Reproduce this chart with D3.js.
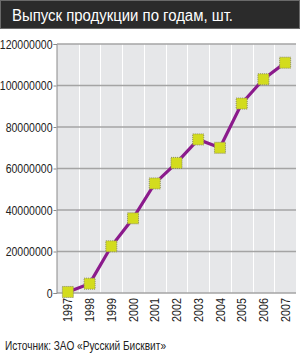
<!DOCTYPE html>
<html>
<head>
<meta charset="utf-8">
<script src="https://cdn.jsdelivr.net/npm/d3@7"></script>
<style>
body { margin: 0; background: #fff; }
text { font-family: "Liberation Sans", Arial, sans-serif; }
</style>
</head>
<body>
<div id="chart"></div>
<script>
let svgWidth = 300;
let svgHeight = 356;
let margin = { top: 44, right: 4, bottom: 63, left: 57 };
let w = svgWidth - margin.left - margin.right;
let h = svgHeight - margin.top - margin.bottom;

let titleText = 'Выпуск продукции по годам, шт.';
let sourceText = 'Источник: ЗАО «Русский Бисквит»';

let years = ['1997','1998','1999','2000','2001','2002','2003','2004','2005','2006','2007'];
let output = [500000, 4500000, 22500000, 36000000, 52800000, 62700000, 74000000, 70000000, 91300000, 103000000, 111000000];
let yTicks = [0, 20000000, 40000000, 60000000, 80000000, 100000000, 120000000];

// narrow look: squeeze glyphs horizontally
function squeeze(sel, k) {
    sel.each(function() {
        let len = this.getComputedTextLength();
        d3.select(this)
            .attr('textLength', len * k)
            .attr('lengthAdjust', 'spacingAndGlyphs');
    });
}

let svg = d3.select('#chart')
    .append('svg')
        .attr('width', svgWidth)
        .attr('height', svgHeight);

// title bar
svg.append('rect')
    .attr('x', 0.5).attr('y', 0.5)
    .attr('width', svgWidth - 1).attr('height', 28)
    .attr('fill', '#2b2b2b')
    .attr('stroke', '#6a6a6a');

let title = svg.append('text')
    .attr('x', 12).attr('y', 21)
    .attr('fill', '#fff')
    .attr('font-size', 16)
    .text(titleText);
title.attr('textLength', 221).attr('lengthAdjust', 'spacingAndGlyphs');

let chart = svg.append('g')
    .attr('transform', `translate(${margin.left},${margin.top})`);

let x = d3.scaleBand()
    .domain(years)
    .range([0, w]);

let y = d3.scaleLinear()
    .domain([0, 120000000])
    .range([h, 0]);

chart.append('rect')
    .attr('width', w).attr('height', h)
    .attr('fill', '#e6e7e9');

// vertical white grid at band edges
chart.selectAll('.vgrid')
    .data(years.slice(1))
    .join('line')
        .attr('x1', d => Math.round(x(d)) + 0.5)
        .attr('x2', d => Math.round(x(d)) + 0.5)
        .attr('y1', 0).attr('y2', h)
        .attr('stroke', '#fff')
        .attr('stroke-width', 1);

// horizontal grid
chart.selectAll('.hgrid')
    .data(yTicks)
    .join('line')
        .attr('x1', 0).attr('x2', w)
        .attr('y1', d => y(d)).attr('y2', d => y(d))
        .attr('stroke', '#a4a4a4')
        .attr('stroke-width', 1.6);

// left axis
let yAxis = d3.axisLeft(y)
    .tickValues(yTicks)
    .tickSize(3)
    .tickPadding(1)
    .tickFormat(d3.format('d'));

let ya = chart.append('g')
    .attr('transform', 'translate(-0.5,0)')
    .call(yAxis);
ya.select('.domain').attr('stroke', '#8a8a8a');
ya.selectAll('.tick line').attr('stroke', '#8a8a8a');
ya.selectAll('.tick text')
    .attr('font-size', 13)
    .attr('fill', '#222')
    .attr('font-family', '"Liberation Sans", Arial, sans-serif');
squeeze(ya.selectAll('.tick text'), 0.81);

// bottom year labels
let xAxis = d3.axisBottom(x).tickSize(0).tickPadding(0);
let xa = chart.append('g')
    .attr('transform', `translate(0,${h})`)
    .call(xAxis);
xa.select('.domain').remove();
xa.selectAll('.tick text')
    .attr('font-size', 13)
    .attr('fill', '#222')
    .attr('font-family', '"Liberation Sans", Arial, sans-serif')
    .attr('text-anchor', 'end')
    .attr('dy', '0.35em')
    .attr('transform', 'translate(0,5) rotate(-90)');
squeeze(xa.selectAll('.tick text'), 0.83);

// line
let line = d3.line()
    .x((d, i) => x(years[i]) + x.bandwidth() / 2)
    .y(d => y(d));

chart.append('path')
    .datum(output)
    .attr('d', line)
    .attr('fill', 'none')
    .attr('stroke', '#8b1a8c')
    .attr('stroke-width', 3.2);

// markers
let ms = 11;
chart.selectAll('.marker')
    .data(output)
    .join('rect')
        .attr('x', (d, i) => x(years[i]) + x.bandwidth() / 2 - ms / 2)
        .attr('y', d => y(d) - ms / 2)
        .attr('width', ms).attr('height', ms)
        .attr('fill', '#d3dc1e')
        .attr('stroke', '#8a8a60')
        .attr('stroke-width', 1)
        .attr('stroke-dasharray', '1,1');

let src = svg.append('text')
    .attr('x', 5).attr('y', 350)
    .attr('font-size', 13)
    .attr('fill', '#222')
    .text(sourceText);
src.attr('textLength', 161).attr('lengthAdjust', 'spacingAndGlyphs');
</script>
</body>
</html>
